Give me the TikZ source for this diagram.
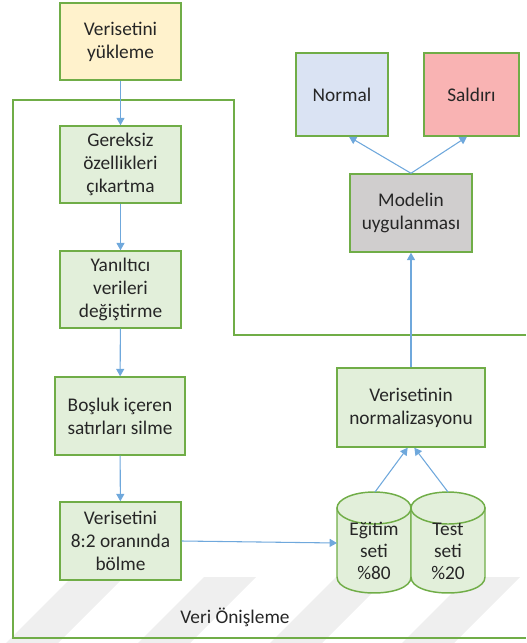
\documentclass[tikz,border=0pt]{standalone}
\usepackage{fontspec}
\setmainfont{Carlito}
\usetikzlibrary{arrows.meta}
\definecolor{frame}{HTML}{70AD47}
\definecolor{flow}{HTML}{6FA8DC}
\definecolor{stepfill}{HTML}{E2EFDA}
\definecolor{loadfill}{HTML}{FFF2CC}
\definecolor{normfill}{HTML}{DAE3F3}
\definecolor{attackfill}{HTML}{F9B3B3}
\definecolor{modelfill}{HTML}{D0CECE}
\definecolor{ink}{HTML}{262626}
\definecolor{stripe}{HTML}{EFEFEF}
\tikzset{
  stepbox/.style={draw=frame, line width=1.1pt, fill=stepfill, align=center,
    text=ink, inner sep=0pt, font=\fontsize{14.5pt}{17.25pt}\selectfont},
  flowline/.style={draw=flow, line width=0.8pt, -{Triangle[length=5.5pt,width=6pt]}},
  drum/.style={draw=frame, line width=1.1pt, fill=stepfill},
  drumtext/.style={align=center, text=ink, inner sep=0pt,
    font=\fontsize{14.5pt}{16.5pt}\selectfont}
}
\begin{document}
\begin{tikzpicture}[x=0.75pt, y=-0.75pt]
\useasboundingbox (0,0) rectangle (526,643);

% faint diagonal bands along the bottom
\foreach \s in {72,204,336,468}
  \fill[stripe] (\s,577) -- (\s+52,577) -- (\s-16,645) -- (\s-68,645) -- cycle;

% pre-processing region outline
\draw[frame, line width=1.1pt] (526,335) -- (234,335) -- (234,100) -- (13,100)
  -- (13,638) -- (526,638);
\node[text=ink, font=\fontsize{14.5pt}{16pt}\selectfont] (region) at (235,617) {Veri Önişleme};

% processing steps
\node[stepbox, fill=loadfill, minimum width=121*0.75pt, minimum height=77*0.75pt]
  (load) at (120.5,41.5) {Verisetini\\yükleme};
\node[stepbox, minimum width=121*0.75pt, minimum height=77*0.75pt]
  (drop) at (120.5,164.5) {Gereksiz\\özellikleri\\çıkartma};
\node[stepbox, minimum width=121*0.75pt, minimum height=77*0.75pt]
  (fix) at (120.5,289.5) {Yanıltıcı\\verileri\\değiştirme};
\node[stepbox, minimum width=130*0.75pt, minimum height=78*0.75pt]
  (blank) at (120,416) {Boşluk içeren\\satırları silme};
\node[stepbox, minimum width=121*0.75pt, minimum height=78*0.75pt]
  (split) at (120.5,541) {Verisetini\\8:2 oranında\\bölme};

\node[stepbox, minimum width=148*0.75pt, minimum height=79*0.75pt]
  (scale) at (411,407.5) {Verisetinin\\normalizasyonu};
\node[stepbox, fill=modelfill, minimum width=122*0.75pt, minimum height=78*0.75pt]
  (model) at (411,213) {Modelin\\uygulanması};
\node[stepbox, fill=normfill, minimum width=92*0.75pt, minimum height=83*0.75pt]
  (normal) at (342,94.5) {Normal};
\node[stepbox, fill=attackfill, minimum width=95*0.75pt, minimum height=83*0.75pt]
  (attack) at (471.5,94.5) {Saldırı};

% data set drums
\path[drum] (337,508) -- (337,577) .. controls (337,598.3) and (411,598.3) .. (411,577)
  -- (411,508) -- cycle;
\draw[drum] (374,508) ellipse [x radius=27.75pt, y radius=12pt];
\path[drum] (411,508) -- (411,577) .. controls (411,598.3) and (485,598.3) .. (485,577)
  -- (485,508) -- cycle;
\draw[drum] (448,508) ellipse [x radius=27.75pt, y radius=12pt];
\node[drumtext] (train) at (374,551) {Eğitim\\seti\\\%80};
\node[drumtext] (test) at (448,551) {Test\\seti\\\%20};
\coordinate (trainin) at (337,543);
\coordinate (traintop) at (375,492);
\coordinate (testtop) at (448,492);

% connectors
\draw[flowline] (load) -- (drop);
\draw[flowline] (drop) -- (fix);
\draw[flowline] (fix) -- (blank);
\draw[flowline] (blank) -- (split);
\draw[flowline] (split.east) -- (trainin);
\draw[flowline] (traintop) -- ([xshift=-2.5pt]scale.south);
\draw[flowline] (testtop) -- ([xshift=2.5pt]scale.south);
\draw[flowline] (scale) -- (model);
\draw[flowline] (model.north) -- (normal.south -| 349,0);
\draw[flowline] (model.north) -- (attack.south -| 467,0);
\end{tikzpicture}
\end{document}
